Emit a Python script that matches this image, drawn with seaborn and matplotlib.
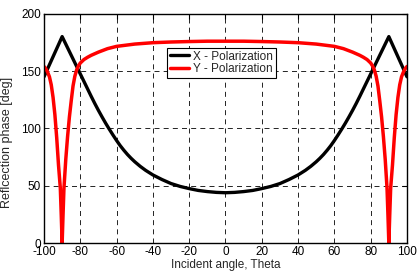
import pandas as pd
import seaborn as sns
from matplotlib import pyplot as plt

# X - Polarization
x_theta = [-100, -98, -96, -94, -92, -90, -88, -86, -84, -82, -80, -78, -76, -74, -72, -70,
           -68, -66, -64, -62, -60, -58, -56, -54, -52, -50, -47, -44, -40, -35, -30, -25, -20, -15, -10, -5, 0,
           5, 10, 15, 20, 25, 30, 35, 40, 44, 47, 50, 52, 54, 56, 58, 60, 62, 64, 66, 68, 70,
           72, 74, 76, 78, 80, 82, 84, 86, 88, 90, 92, 94, 96, 98, 100]
x_phase = [145, 152, 159, 166, 173, 180, 173.5, 167, 160.5, 154, 147.5, 141, 134.5, 128, 121.7, 115.7,
           110, 104.5, 99.3, 94.3, 89.5, 85, 81, 77.3, 74, 71, 67, 63.5, 59.5, 55.5, 52, 49.5, 47.6, 46, 45, 44.3, 44,
           44.3, 45, 46, 47.6, 49.5, 52, 55.5, 59.5, 63.5, 67, 71, 74, 77.3, 81, 85, 89.5, 94.3, 99.3, 104.5, 110, 115.7,
           121.7, 128, 134.5, 141, 147.5, 154, 160.5, 167, 173.5, 180, 173, 166, 159, 152, 145]

# Y - Polarization
y_theta = [-100, -99, -98, -97, -96, -95, -94, -93, -92, -91, -90.5, -90, -89.5, -89, -88, -87,
           -86, -85, -84, -83, -82, -81, -80, -78, -76, -74, -70, -65, -60, -50, -40, -30, -20, -10, 0,
           10, 20, 30, 40, 50, 60, 65, 70, 74, 76, 78, 80, 81, 82, 83, 84, 85, 86, 87, 88, 89, 89.5,
           90, 90.5, 91, 92, 93, 94, 95, 96, 97, 98, 99, 100]
y_phase = [154, 152, 149, 145, 138, 127, 112, 92, 68, 48, 25, 0, 25, 48, 73, 93,
           110, 124, 137, 145.5, 151, 154.5, 157, 160, 162, 163.7, 166.5, 169.5, 171.5, 173.5, 174.7, 175.3, 175.7, 176, 176,
           176, 175.7, 175.3, 174.7, 173.5, 171.5, 169.5, 166.5, 163.7, 162, 160, 157, 154.5, 151, 145.5, 137, 124, 110, 93, 73, 48, 25,
           0, 25, 48, 68, 92, 112, 127, 138, 145, 149, 152, 154]

df_x = pd.DataFrame({'theta': x_theta, 'phase': x_phase})
df_y = pd.DataFrame({'theta': y_theta, 'phase': y_phase})

sns.set_style('white')
plt.rcParams['font.family'] = ['Liberation Sans', 'DejaVu Sans']
plt.rcParams['font.size'] = 8.5
plt.rcParams['axes.unicode_minus'] = False

fig = plt.figure(figsize=(4.17, 2.73), dpi=100)
ax = fig.add_axes([0.1055, 0.109, 0.8705, 0.841])

sns.lineplot(data=df_x, x='theta', y='phase', color='black', linewidth=2.4,
             label='X - Polarization', ax=ax, sort=False)
sns.lineplot(data=df_y, x='theta', y='phase', color='#ff0000', linewidth=2.5,
             label='Y - Polarization', ax=ax, sort=False)

ax.set_xlim(-100, 100)
ax.set_ylim(0, 200)
ax.set_xticks(range(-100, 101, 20))
ax.set_yticks(range(0, 201, 50))
ax.grid(True, color='black', linestyle=(0, (6, 5)), linewidth=0.6)
ax.set_axisbelow(True)
ax.tick_params(direction='in', length=3.5, width=0.8, top=True, right=True,
               labelsize=8.5, pad=2, colors='black')
for s in ax.spines.values():
    s.set_color('black')
    s.set_linewidth(1.0)

ax.set_xlabel('Incident angle, Theta', fontsize=8.5, labelpad=1)
ax.set_ylabel('Reflcection phase [deg]', fontsize=9)
ax.yaxis.set_label_coords(-0.085, 0.44)

leg = ax.legend(loc='upper center', bbox_to_anchor=(0.489, 0.852), fontsize=8.5,
                fancybox=False, framealpha=1, edgecolor='black', borderpad=0.25,
                handlelength=1.6, handletextpad=0.3, labelspacing=0.05, borderaxespad=0)
leg.get_frame().set_linewidth(0.8)

fig.savefig('out.png', dpi=100)
